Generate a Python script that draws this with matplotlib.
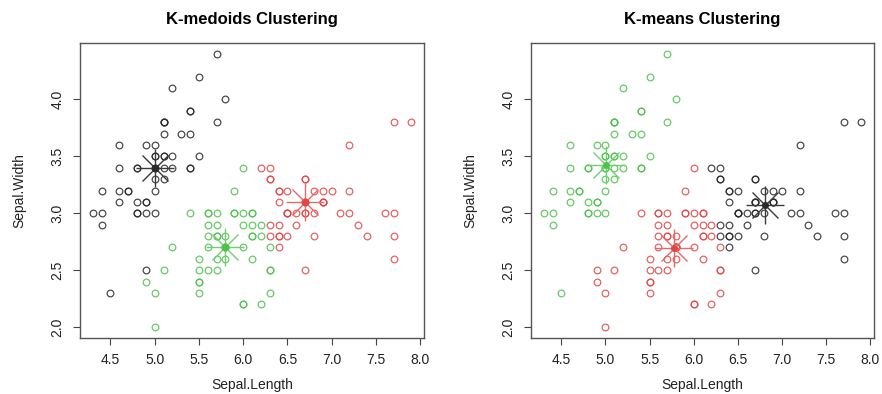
import matplotlib
matplotlib.use("Agg")
import matplotlib.pyplot as plt

plt.rcParams['font.family'] = ['Liberation Sans', 'DejaVu Sans']

# iris Sepal.Length / Sepal.Width (150 rows)
sepal_length = [
    5.1, 4.9, 4.7, 4.6, 5.0, 5.4, 4.6, 5.0, 4.4, 4.9, 5.4, 4.8, 4.8, 4.3, 5.8, 5.7, 5.4, 5.1, 5.7, 5.1,
    5.4, 5.1, 4.6, 5.1, 4.8, 5.0, 5.0, 5.2, 5.2, 4.7, 4.8, 5.4, 5.2, 5.5, 4.9, 5.0, 5.5, 4.9, 4.4, 5.1,
    5.0, 4.5, 4.4, 5.0, 5.1, 4.8, 5.1, 4.6, 5.3, 5.0,
    7.0, 6.4, 6.9, 5.5, 6.5, 5.7, 6.3, 4.9, 6.6, 5.2, 5.0, 5.9, 6.0, 6.1, 5.6, 6.7, 5.6, 5.8, 6.2, 5.6,
    5.9, 6.1, 6.3, 6.1, 6.4, 6.6, 6.8, 6.7, 6.0, 5.7, 5.5, 5.5, 5.8, 6.0, 5.4, 6.0, 6.7, 6.3, 5.6, 5.5,
    5.5, 6.1, 5.8, 5.0, 5.6, 5.7, 5.7, 6.2, 5.1, 5.7,
    6.3, 5.8, 7.1, 6.3, 6.5, 7.6, 4.9, 7.3, 6.7, 7.2, 6.5, 6.4, 6.8, 5.7, 5.8, 6.4, 6.5, 7.7, 7.7, 6.0,
    6.9, 5.6, 7.7, 6.3, 6.7, 7.2, 6.2, 6.1, 6.4, 7.2, 7.4, 7.9, 6.4, 6.3, 6.1, 7.7, 6.3, 6.4, 6.0, 6.9,
    6.7, 6.9, 5.8, 6.8, 6.7, 6.7, 6.3, 6.5, 6.2, 5.9]
sepal_width = [
    3.5, 3.0, 3.2, 3.1, 3.6, 3.9, 3.4, 3.4, 2.9, 3.1, 3.7, 3.4, 3.0, 3.0, 4.0, 4.4, 3.9, 3.5, 3.8, 3.8,
    3.4, 3.7, 3.6, 3.3, 3.4, 3.0, 3.4, 3.5, 3.4, 3.2, 3.1, 3.4, 4.1, 4.2, 3.1, 3.2, 3.5, 3.6, 3.0, 3.4,
    3.5, 2.3, 3.2, 3.5, 3.8, 3.0, 3.8, 3.2, 3.7, 3.3,
    3.2, 3.2, 3.1, 2.3, 2.8, 2.8, 3.3, 2.4, 2.9, 2.7, 2.0, 3.0, 2.2, 2.9, 2.9, 3.1, 3.0, 2.7, 2.2, 2.5,
    3.2, 2.8, 2.5, 2.8, 2.9, 3.0, 2.8, 3.0, 2.9, 2.6, 2.4, 2.4, 2.7, 2.7, 3.0, 3.4, 3.1, 2.3, 3.0, 2.5,
    2.6, 3.0, 2.6, 2.3, 2.7, 3.0, 2.9, 2.9, 2.5, 2.8,
    3.3, 2.7, 3.0, 2.9, 3.0, 3.0, 2.5, 2.9, 2.5, 3.6, 3.2, 2.7, 3.0, 2.5, 2.8, 3.2, 3.0, 3.8, 2.6, 2.2,
    3.2, 2.8, 2.8, 2.7, 3.3, 3.2, 2.8, 3.0, 2.8, 3.0, 2.8, 3.8, 2.8, 2.8, 2.6, 3.0, 3.4, 3.1, 3.0, 3.1,
    3.1, 3.1, 2.7, 3.2, 3.3, 3.0, 2.5, 3.0, 3.4, 3.0]

# cluster ids (1 = black, 2 = red, 3 = green)
pam_cluster = [1] * 50 + [
    2, 2, 2, 3, 2, 3, 2, 3, 2, 3, 3, 3, 3, 3, 3, 2, 3, 3, 3, 3,
    3, 3, 3, 3, 2, 2, 2, 2, 3, 3, 3, 3, 3, 3, 3, 3, 2, 3, 3, 3,
    3, 3, 3, 3, 3, 3, 3, 3, 3, 3,
    2, 3, 2, 2, 2, 2, 1, 2, 2, 2, 2, 2, 2, 3, 3, 2, 2, 2, 2, 3,
    2, 3, 2, 3, 2, 2, 3, 3, 2, 2, 2, 2, 2, 2, 3, 2, 2, 2, 3, 2,
    2, 2, 3, 2, 2, 2, 3, 2, 2, 3]
km_cluster = [3] * 50 + [
    1, 1, 1, 2, 1, 2, 1, 2, 1, 2, 2, 2, 2, 2, 2, 1, 2, 2, 2, 2,
    2, 2, 2, 2, 1, 1, 1, 1, 2, 2, 2, 2, 2, 2, 2, 2, 1, 2, 2, 2,
    2, 2, 2, 2, 2, 2, 2, 2, 2, 2,
    1, 2, 1, 1, 1, 1, 2, 1, 1, 1, 1, 1, 1, 2, 2, 1, 1, 1, 1, 2,
    1, 2, 1, 2, 1, 1, 2, 2, 1, 1, 1, 1, 1, 1, 2, 1, 1, 1, 2, 1,
    1, 1, 2, 1, 1, 1, 2, 1, 1, 2]

# medoids / centers, ordered by cluster id
pam_cx = [5.0, 6.7, 5.8]
pam_cy = [3.4, 3.1, 2.7]
km_cx = [6.812766, 5.773585, 5.006]
km_cy = [3.074468, 2.692453, 3.428]

palette = {1: '#2a2a2a', 2: '#e04848', 3: '#4cc24c'}
star_col = {1: '#3a3a3a', 2: '#e86868', 3: '#70d070'}

fig = plt.figure(figsize=(8.82, 3.94), dpi=100)
ax1 = fig.add_axes([80 / 882, 56 / 394, 344 / 882, 295 / 394])
ax2 = fig.add_axes([531 / 882, 56 / 394, 343 / 882, 295 / 394])


def draw(ax, cl, cx, cy, title, ylab_x):
    for k in (1, 2, 3):
        xs = [x for x, c in zip(sepal_length, cl) if c == k]
        ys = [y for y, c in zip(sepal_width, cl) if c == k]
        ax.plot(xs, ys, 'o', ms=4.8, mfc='none', mec=palette[k], mew=0.9, alpha=0.85)
    for k in (1, 2, 3):
        ax.plot(cx[k - 1], cy[k - 1], '+', ms=27, mew=1.0, color=star_col[k])
        ax.plot(cx[k - 1], cy[k - 1], 'x', ms=19, mew=1.0, color=star_col[k])
        ax.plot(cx[k - 1], cy[k - 1], 'o', ms=4, color=palette[k])
    ax.set_xlim(4.156, 8.044)
    ax.set_ylim(1.904, 4.496)
    ax.set_xticks([4.5, 5.0, 5.5, 6.0, 6.5, 7.0, 7.5, 8.0])
    ax.set_xticklabels(['4.5', '5.0', '5.5', '6.0', '6.5', '7.0', '7.5', '8.0'])
    ax.set_yticks([2.0, 2.5, 3.0, 3.5, 4.0])
    ax.set_yticklabels(['2.0', '2.5', '3.0', '3.5', '4.0'], rotation=90, va='center')
    ax.tick_params(direction='out', length=5, width=0.8, color='#444444',
                   labelsize=10, labelcolor='#222222', pad=6)
    for s in ax.spines.values():
        s.set_color('#555555')
        s.set_linewidth(1.0)
    ax.set_xlabel('Sepal.Length', fontsize=10, color='#222222', labelpad=8)
    ax.set_ylabel('Sepal.Width', fontsize=10, color='#222222')
    ax.yaxis.set_label_coords(ylab_x, 0.5)
    ax.set_title(title, fontsize=12, fontweight='bold', pad=14)


draw(ax1, pam_cluster, pam_cx, pam_cy, 'K-medoids Clustering', -0.157)
draw(ax2, km_cluster, km_cx, km_cy, 'K-means Clustering', -0.157)

fig.savefig('out.png', dpi=100)
